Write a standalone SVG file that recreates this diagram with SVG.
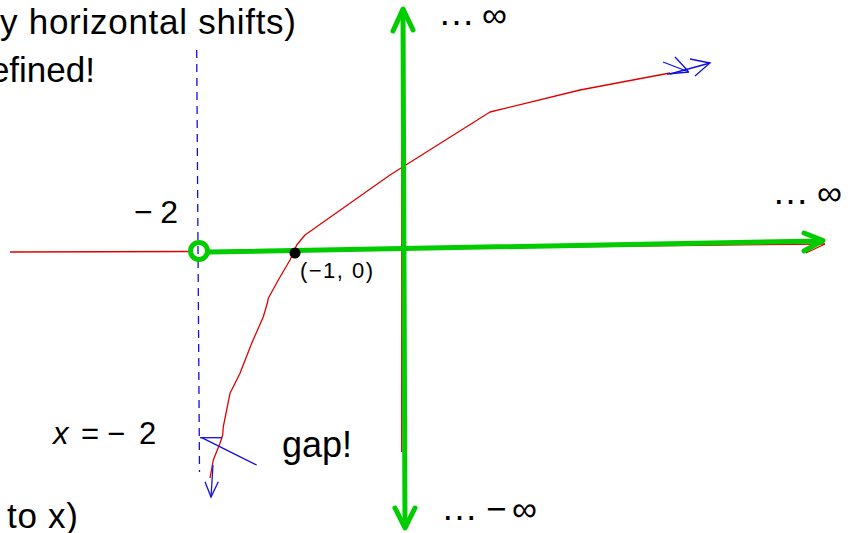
<svg xmlns="http://www.w3.org/2000/svg" width="853" height="533" viewBox="0 0 853 533">
<style>
text{font-family:"Liberation Sans",Arial,sans-serif;fill:#000}
.red{fill:none;stroke:#e00000;stroke-width:1.3;stroke-linejoin:round}
.blue{fill:none;stroke:#1010e0;stroke-width:1.3}
.green{fill:none;stroke:#00cc00;stroke-width:5;stroke-linecap:round;stroke-linejoin:round}
</style>
<rect width="853" height="533" fill="#fff"/>
<g id="curve">
<polyline class="red" points="10,252 192,251.5"/>
<polyline class="red" points="208,251 825,244"/>
<polyline class="red" points="806,253 825,244"/>
<polyline class="red" points="401.7,20 401.7,452"/>
<polyline class="red" points="210,478 213.3,460 220,443.3 222.7,435 223.3,426.7 230,393.3 233.3,386.7 240,373.3 251.7,343.3 263.3,316.7 267.3,303.3 268.3,298.3 278.3,280 290,260 296.7,245 305,235 390,175 490,112 580,90 670,73"/>
</g>
<g id="annotations">
<line class="blue" x1="196.7" y1="50" x2="199.5" y2="472" stroke-dasharray="8,6"/>
<polyline class="blue" points="200,437.7 222,437.7"/>
<polyline class="blue" points="201.7,437.7 256.7,465"/>
<polyline class="blue" points="213,465 211,497"/>
<polyline class="blue" points="205,481.7 211,497 218.3,481.7"/>
<polyline class="blue" points="663,62 689,72"/>
<polyline class="blue" points="675,57 688,71"/>
<polyline class="blue" points="667,74 689,72"/>
<polyline class="blue" points="670,74 710,63"/>
<polyline class="blue" points="690,59 710,63 695,76"/>
</g>
<g id="axes">
<line class="green" x1="403" y1="10" x2="405" y2="527"/>
<polyline class="green" points="393,31 403,9 413,30"/>
<polyline class="green" points="395,508 405,528 415,508"/>
<line class="green" x1="209" y1="252" x2="822" y2="241"/>
<polyline class="green" points="804,233 823,240.5 804,251"/>
<circle cx="199" cy="251" r="8.5" fill="none" stroke="#00cc00" stroke-width="5"/>
<circle cx="295" cy="253" r="5.5" fill="#000"/>
</g>
<g id="labels">
<text x="0" y="34" font-size="35" textLength="296" lengthAdjust="spacing">y horizontal shifts)</text>
<text x="95" y="82" font-size="35" text-anchor="end">efined!</text>
<text x="134" y="223" font-size="32" textLength="44" lengthAdjust="spacing">−2</text>
<text x="300" y="277.5" font-size="22" textLength="73" lengthAdjust="spacing">(−1, 0)</text>
<text y="444" font-size="31"><tspan x="53" font-style="italic">x</tspan><tspan x="81">=</tspan><tspan x="107">−</tspan><tspan x="139">2</tspan></text>
<text x="282" y="457" font-size="36">gap!</text>
<text x="7" y="528" font-size="35" textLength="71" lengthAdjust="spacing">to x)</text>
<text y="25" font-size="37" x="438">…</text>
<text y="27" font-size="35" x="482">∞</text>
<text y="204" font-size="37" x="772">…</text>
<text y="205" font-size="35" x="817">∞</text>
<text y="520" font-size="37" x="441">…</text>
<text y="521" font-size="35"><tspan x="486">−</tspan><tspan x="512">∞</tspan></text>
</g>
</svg>
